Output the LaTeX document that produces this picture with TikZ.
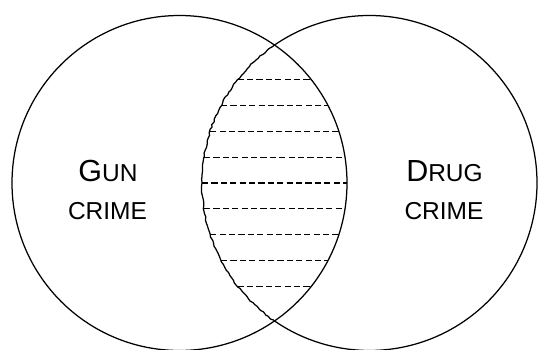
\documentclass[tikz,border=0pt]{standalone}
\usepackage{fontspec}
\setmainfont{Liberation Sans}
\usetikzlibrary{calc,decorations.pathmorphing}
\tikzset{
  ring/.style={draw=black,line width=1.25pt},
  shaky/.style={ring,decorate,decoration={random steps,segment length=3pt,amplitude=0.7pt}},
  hatch/.style={draw=black,line width=1.15pt,dash pattern=on 6.2pt off 3.2pt},
  word/.style={font=\fontsize{24.5}{26}\selectfont,anchor=base,inner sep=0pt},
}
\newcommand\firstcap[1]{{\fontsize{30.5}{32}\selectfont #1}}

\begin{document}
\begin{tikzpicture}[x=1pt,y=1pt]
  \useasboundingbox (0,0) rectangle (538,349);
  \pgfmathsetseed{7}
  \coordinate (gc) at (179.5,166);
  \coordinate (dc) at (369.5,166);
  % hatching of the overlap
  \foreach \k in {-4,...,4}{
    \pgfmathsetmacro\dy{\k*25.8}
    \pgfmathsetmacro\w{100*sqrt(1.675^2-(\dy/100)^2)}
    \draw[hatch] ($(dc)+(-\w,\dy)$) -- ($(gc)+(\w,\dy)$);
  }
  % circles
  \draw[ring] (gc) circle[radius=167.5];
  \draw[ring] (dc) ++(124.55:167.5) arc[start angle=124.55,end angle=-124.55,radius=167.5];
  \draw[shaky] (dc) ++(124.55:167.5) arc[start angle=124.55,end angle=235.45,radius=167.5];
  % labels
  \node[word] (gun) at (108,168) {\firstcap{G}UN};
  \node[word] (gunc) at (107.5,130) {CRIME};
  \node[word] (drug) at (444.5,168) {\firstcap{D}RUG};
  \node[word] (drugc) at (444,130) {CRIME};
\end{tikzpicture}
\end{document}
